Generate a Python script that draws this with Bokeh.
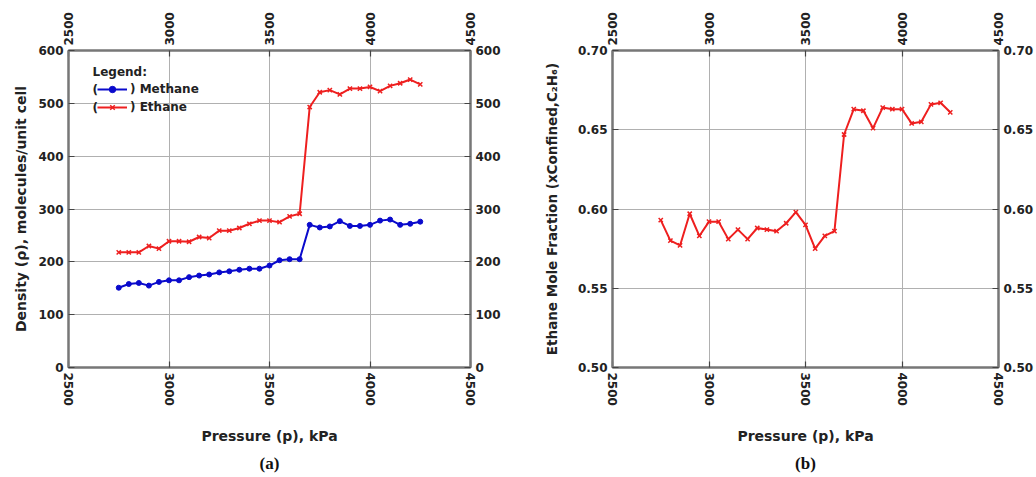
from bokeh.plotting import figure
from bokeh.models import (LinearAxis, FixedTicker, NumeralTickFormatter, Range1d,
                          Legend, LegendItem, Title, Label)
from bokeh.layouts import row
from bokeh.embed import file_html
from bokeh.resources import INLINE

pressure = [2750, 2800, 2850, 2900, 2950, 3000, 3050, 3100, 3150, 3200, 3250,
            3300, 3350, 3400, 3450, 3500, 3550, 3600, 3650, 3700, 3750, 3800,
            3850, 3900, 3950, 4000, 4050, 4100, 4150, 4200, 4250]
methane = [151, 158, 160, 155, 162, 165, 165, 171, 174, 176, 180, 182, 185, 187,
           187, 193, 203, 205, 205, 270, 265, 267, 277, 268, 268, 270, 278, 280,
           270, 272, 276]
ethane = [218, 218, 218, 230, 225, 239, 239, 238, 247, 245, 259, 259, 264, 272,
          278, 278, 275, 286, 291, 493, 521, 525, 517, 528, 528, 531, 523, 533,
          538, 545, 536]
ethane_fraction = [0.593, 0.580, 0.577, 0.597, 0.583, 0.592, 0.592, 0.581, 0.587,
                   0.581, 0.588, 0.587, 0.586, 0.591, 0.598, 0.590, 0.575, 0.583,
                   0.586, 0.647, 0.663, 0.662, 0.651, 0.664, 0.663, 0.663, 0.654,
                   0.655, 0.666, 0.667, 0.661]
x_ticks = [2500, 3000, 3500, 4000, 4500]
density_ticks = [0, 100, 200, 300, 400, 500, 600]
fraction_ticks = [0.50, 0.55, 0.60, 0.65, 0.70]

BLUE = "#0a0acc"
RED = "#ee1f1f"
FONT = "DejaVu Sans"
AX = "#777777"
TXT = "#222222"


def style_axis(ax, ticks, label_vertical=False):
    ax.ticker = FixedTicker(ticks=ticks)
    ax.axis_line_color = AX
    ax.axis_line_width = 2
    ax.major_tick_line_color = "#444444"
    ax.major_tick_line_width = 1.2
    ax.major_tick_in = 6
    ax.major_tick_out = 0
    ax.minor_tick_line_color = None
    ax.major_label_text_font = FONT
    ax.major_label_text_font_style = "bold"
    ax.major_label_text_font_size = "12px"
    ax.major_label_text_color = TXT
    ax.major_label_standoff = 5
    ax.axis_label_text_font = FONT
    ax.axis_label_text_font_style = "bold"
    ax.axis_label_text_font_size = "14px"
    ax.axis_label_text_color = TXT
    if label_vertical:
        ax.major_label_orientation = "vertical"


def make_fig(width, left, right, yrange, yticks, ylabel, ylabel_standoff, ylabel_size,
             panel, fmt=None):
    p = figure(width=width, height=477, x_range=Range1d(2500, 4500),
               y_range=Range1d(*yrange), output_backend="svg",
               toolbar_location=None, min_border_left=left,
               min_border_right=right, min_border_top=50, min_border_bottom=110)
    p.background_fill_color = "white"
    p.border_fill_color = "white"
    p.outline_line_color = AX
    p.outline_line_width = 2
    p.grid.grid_line_color = "#b0b0b0"
    p.grid.grid_line_width = 1
    p.xgrid.ticker = FixedTicker(ticks=x_ticks)
    p.ygrid.ticker = FixedTicker(ticks=yticks)

    style_axis(p.xaxis[0], x_ticks, True)
    p.xaxis[0].axis_label = "Pressure (p), kPa"
    p.xaxis[0].axis_label_standoff = 19
    style_axis(p.yaxis[0], yticks)
    p.yaxis[0].axis_label = ylabel
    p.yaxis[0].axis_label_standoff = ylabel_standoff
    p.yaxis[0].axis_label_text_font_size = ylabel_size
    if fmt:
        p.yaxis[0].formatter = NumeralTickFormatter(format=fmt)

    top = LinearAxis()
    style_axis(top, x_ticks, True)
    p.add_layout(top, "above")
    right_ax = LinearAxis()
    style_axis(right_ax, yticks)
    if fmt:
        right_ax.formatter = NumeralTickFormatter(format=fmt)
    p.add_layout(right_ax, "right")

    t = Title(text=panel, align="center", text_font="Liberation Serif",
              text_font_style="bold", text_font_size="17px", text_color="#111111")
    p.add_layout(t, "below")
    return p


def txt(p, x, y, s, size="12px", style="bold"):
    p.add_layout(Label(x=x, y=y, x_units="screen", y_units="screen", text=s,
                       text_font=FONT, text_font_style=style, text_font_size=size,
                       text_color=TXT, text_align="left", text_baseline="middle"))


# ---- panel (a)
p1 = make_fig(520, 68, 50, (0, 600), density_ticks,
              "Density (ρ), molecules/unit cell", 6, "14px", "(a)")
m_line = p1.line(pressure, methane, line_color=BLUE, line_width=2)
m_pts = p1.scatter(pressure, methane, marker="circle", size=5, color=BLUE)
e_line = p1.line(pressure, ethane, line_color=RED, line_width=2)
e_pts = p1.scatter(pressure, ethane, marker="x", size=6, line_color=RED, line_width=1.5)

legend = Legend(items=[LegendItem(label=") Methane", renderers=[m_line, m_pts]),
                       LegendItem(label=") Ethane", renderers=[e_line, e_pts])],
                location=(29, 252), margin=0, padding=0,
                background_fill_alpha=0, border_line_color=None,
                label_text_font=FONT, label_text_font_style="bold",
                label_text_font_size="12px", label_text_color=TXT,
                glyph_width=30, glyph_height=16,
                label_height=16, spacing=2, label_standoff=3)
p1.add_layout(legend)
txt(p1, 24, 296, "Legend:")
txt(p1, 24, 278, "(")
txt(p1, 24, 260, "(")

# ---- panel (b)
p2 = make_fig(516, 92, 36, (0.5, 0.7), fraction_ticks,
              "Ethane Mole Fraction (xConfined,C₂H₆)", 15, "13.5px", "(b)", fmt="0.00")
p2.line(pressure, ethane_fraction, line_color=RED, line_width=2)
p2.scatter(pressure, ethane_fraction, marker="x", size=6, line_color=RED, line_width=1.5)

layout = row(p1, p2)
open("out.html", "w").write(file_html(layout, INLINE))
